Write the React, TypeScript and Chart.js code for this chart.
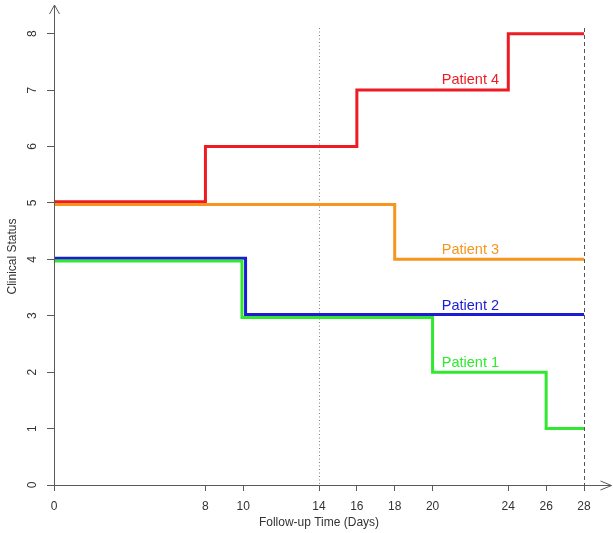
import React, { useEffect, useRef } from "react";
import { Chart, registerables } from "chart.js";

Chart.register(...registerables);

// ---- data ----
const xTickValues = [0, 8, 10, 14, 16, 18, 20, 24, 26, 28];
const yTickValues = [0, 1, 2, 3, 4, 5, 6, 7, 8];

const patient1Days = [0, 9.93, 20, 26, 28];
const patient1Status = [3.97, 2.97, 2, 1, 1];
const patient2Days = [0, 10.12, 28];
const patient2Status = [4.02, 3.02, 3.02];
const patient3Days = [0, 18, 28];
const patient3Status = [4.97, 4, 4];
const patient4Days = [0, 8, 16, 24, 28];
const patient4Status = [5.02, 6, 7, 8, 8];

const seriesNames = ["Patient 1", "Patient 2", "Patient 3", "Patient 4"];
const seriesColors = ["#2fe82f", "#1c1cd4", "#f7951e", "#ee1b24"];
const labelDay = 22;
const labelStatus = [2.1, 3.1, 4.1, 7.1];

const dottedDay = 14;
const dashedDay = 28;

const xMin = 0;
const xMax = 28;
const yMin = 0;
const yMax = 8.1;

const FONT = '"Liberation Sans", Arial, Helvetica, sans-serif';
const AXIS_COLOR = "#5a5a5a";
const TEXT_COLOR = "#333333";

function toPoints(xs: number[], ys: number[]) {
  return xs.map((x, i) => ({ x, y: ys[i] }));
}

const decorPlugin = {
  id: "decor",
  beforeDatasetsDraw(chart: any) {
    const { ctx, chartArea, scales } = chart;
    const xs = scales.x;
    ctx.save();
    ctx.lineWidth = 1;
    // dotted line at day 14
    ctx.strokeStyle = "#808080";
    ctx.setLineDash([1, 2.5]);
    const x14 = Math.round(xs.getPixelForValue(dottedDay)) + 0.5;
    ctx.beginPath();
    ctx.moveTo(x14, chartArea.top);
    ctx.lineTo(x14, chartArea.bottom);
    ctx.stroke();
    // dashed line at day 28
    ctx.strokeStyle = "#555555";
    ctx.setLineDash([4, 3]);
    const x28 = Math.round(xs.getPixelForValue(dashedDay)) + 0.5;
    ctx.beginPath();
    ctx.moveTo(x28, chartArea.top);
    ctx.lineTo(x28, chartArea.bottom);
    ctx.stroke();
    ctx.restore();
  },
  afterDraw(chart: any) {
    const { ctx, scales, width } = chart;
    const xs = scales.x;
    const ys = scales.y;
    ctx.save();
    // axis lines with arrows
    const ox = Math.round(xs.getPixelForValue(xMin)) + 0.5;
    const oy = Math.round(ys.getPixelForValue(yMin)) + 0.5;
    const xEnd = width - 1.5;
    const yEnd = 5;
    ctx.strokeStyle = AXIS_COLOR;
    ctx.lineWidth = 1;
    ctx.setLineDash([]);
    ctx.beginPath();
    ctx.moveTo(ox, oy);
    ctx.lineTo(xEnd, oy);
    ctx.moveTo(xEnd - 11, oy - 4.5);
    ctx.lineTo(xEnd, oy);
    ctx.lineTo(xEnd - 11, oy + 4.5);
    ctx.moveTo(ox, oy);
    ctx.lineTo(ox, yEnd);
    ctx.moveTo(ox - 5, yEnd + 9);
    ctx.lineTo(ox, yEnd);
    ctx.lineTo(ox + 5, yEnd + 9);
    ctx.stroke();

    // rotated y tick labels
    ctx.fillStyle = TEXT_COLOR;
    ctx.font = `12px ${FONT}`;
    ctx.textAlign = "center";
    ctx.textBaseline = "middle";
    ys.ticks.forEach((t: any) => {
      const py = ys.getPixelForValue(t.value);
      ctx.save();
      ctx.translate(33, py);
      ctx.rotate(-Math.PI / 2);
      ctx.fillText(String(t.value), 0, 0);
      ctx.restore();
    });

    // series labels
    ctx.font = `14.5px ${FONT}`;
    ctx.textAlign = "center";
    ctx.textBaseline = "alphabetic";
    seriesNames.forEach((name, i) => {
      ctx.fillStyle = seriesColors[i];
      ctx.fillText(name, xs.getPixelForValue(labelDay), ys.getPixelForValue(labelStatus[i]));
    });
    ctx.restore();
  },
};

export default function App() {
  const canvasRef = useRef<HTMLCanvasElement | null>(null);

  useEffect(() => {
    const canvas = canvasRef.current;
    if (!canvas) return;
    const seriesData = [
      toPoints(patient1Days, patient1Status),
      toPoints(patient2Days, patient2Status),
      toPoints(patient3Days, patient3Status),
      toPoints(patient4Days, patient4Status),
    ];
    const chart = new Chart(canvas, {
      type: "line",
      data: {
        datasets: seriesNames.map((name, i) => ({
          label: name,
          data: seriesData[i],
          borderColor: seriesColors[i],
          backgroundColor: seriesColors[i],
          borderWidth: 3,
          pointRadius: 0,
          stepped: "before" as const,
          fill: false,
          clip: false as any,
          order: i,
        })),
      },
      options: {
        responsive: false,
        animation: false,
        devicePixelRatio: 1,
        layout: { padding: { left: 0, right: 29, top: 28, bottom: 0 } },
        plugins: {
          legend: { display: false },
          tooltip: { enabled: false },
        },
        scales: {
          x: {
            type: "linear",
            min: xMin,
            max: xMax,
            afterBuildTicks: (scale: any) => {
              scale.ticks = xTickValues.map((v) => ({ value: v }));
            },
            afterFit: (scale: any) => {
              scale.height = 48;
            },
            border: { display: false },
            grid: {
              drawOnChartArea: false,
              drawTicks: true,
              tickLength: 6,
              color: AXIS_COLOR,
              lineWidth: 1,
            },
            ticks: {
              autoSkip: false,
              maxRotation: 0,
              minRotation: 0,
              padding: 8,
              color: TEXT_COLOR,
              font: { family: FONT, size: 12 },
            },
            title: {
              display: true,
              text: "Follow-up Time (Days)",
              color: TEXT_COLOR,
              font: { family: FONT, size: 12 },
              padding: { top: 0, bottom: 3 },
            },
          },
          y: {
            type: "linear",
            min: yMin,
            max: yMax,
            afterBuildTicks: (scale: any) => {
              scale.ticks = yTickValues.map((v) => ({ value: v }));
            },
            afterFit: (scale: any) => {
              scale.width = 54;
            },
            border: { display: false },
            grid: {
              drawOnChartArea: false,
              drawTicks: true,
              tickLength: 7,
              color: AXIS_COLOR,
              lineWidth: 1,
            },
            ticks: {
              autoSkip: false,
              color: "rgba(0,0,0,0)",
              font: { family: FONT, size: 12 },
            },
            title: {
              display: true,
              text: "Clinical Status",
              color: TEXT_COLOR,
              font: { family: FONT, size: 12 },
              padding: { top: 5, bottom: 0 },
            },
          },
        },
      },
      plugins: [decorPlugin],
    });
    return () => chart.destroy();
  }, []);

  return (
    <div style={{ position: "fixed", left: 0, top: 0, width: 613, height: 533, background: "#fff" }}>
      <canvas ref={canvasRef} width={613} height={533} style={{ width: 613, height: 533, display: "block" }} />
    </div>
  );
}
